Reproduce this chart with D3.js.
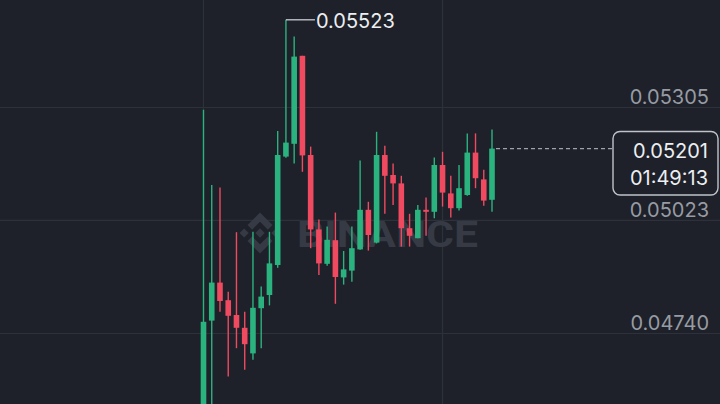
<!DOCTYPE html>
<html>
<head>
<meta charset="utf-8">
<script src="https://cdn.jsdelivr.net/npm/d3@7/dist/d3.min.js"></script>
<style>
  html, body { margin: 0; padding: 0; background: #1e2129; }
  svg { display: block; }
</style>
</head>
<body>
<svg id="chart" width="720" height="404"></svg>
<script>
// ---- data (price candles, oldest first) ----
const opens  = [0.04530, 0.04771, 0.04866, 0.04822, 0.04785, 0.04753, 0.04689, 0.04802, 0.04835, 0.04910,
                0.05181, 0.05213, 0.05433, 0.05185, 0.04999, 0.04913, 0.04972, 0.04879, 0.04896, 0.04949,
                0.05048, 0.04966, 0.05185, 0.05135, 0.05114, 0.05002, 0.04977, 0.05048, 0.05043, 0.05160,
                0.05089, 0.05052, 0.05085, 0.05191, 0.05124, 0.05073];
const highs  = [0.05298, 0.05110, 0.05104, 0.04843, 0.04992, 0.04793, 0.04993, 0.04856, 0.04993, 0.05245,
                0.05523, 0.05481, 0.05433, 0.05206, 0.05024, 0.05006, 0.05041, 0.04945, 0.05006, 0.05171,
                0.05068, 0.05243, 0.05208, 0.05164, 0.05133, 0.05038, 0.05060, 0.05079, 0.05179, 0.05193,
                0.05133, 0.05160, 0.05239, 0.05239, 0.05148, 0.05249];
const lows   = [0.04500, 0.04520, 0.04793, 0.04631, 0.04702, 0.04648, 0.04673, 0.04702, 0.04809, 0.04903,
                0.05178, 0.05164, 0.05143, 0.04952, 0.04885, 0.04908, 0.04813, 0.04861, 0.04868, 0.04948,
                0.04946, 0.04964, 0.05038, 0.05060, 0.04956, 0.04956, 0.04977, 0.04983, 0.05027, 0.05056,
                0.05029, 0.05046, 0.05083, 0.05102, 0.05058, 0.05043];
const closes = [0.04768, 0.04866, 0.04820, 0.04783, 0.04753, 0.04712, 0.04803, 0.04831, 0.04914, 0.05185,
                0.05216, 0.05431, 0.05184, 0.04999, 0.04914, 0.04973, 0.04880, 0.04899, 0.04952, 0.05048,
                0.04985, 0.05185, 0.05133, 0.05114, 0.05002, 0.04983, 0.05048, 0.05043, 0.05160, 0.05091,
                0.05052, 0.05102, 0.05191, 0.05127, 0.05071, 0.05201];
const priceTicks = [0.05305, 0.05023, 0.04740];
const tickLabels = ["0.05305", "0.05023", "0.04740"];
const timeGridIdx = [0, 29];
const highLabel = "0.05523";
const lastPriceLabel = "0.05201";
const countdownLabel = "01:49:13";
const watermarkText = "BINANCE";

const candles = opens.map((o, i) => ({ i, o, h: highs[i], l: lows[i], c: closes[i] }));

// ---- layout ----
const W = 720, H = 404;
const svg = d3.select("#chart");
const up = "#2bb37f", down = "#ef4a60";

const x = d3.scaleLinear().domain([0, candles.length - 1]).range([203.5, 492]);
const y = d3.scaleLinear().domain([0.05305, 0.04740]).range([107, 333]);
const bodyW = 5.6;

svg.append("rect").attr("width", W).attr("height", H).attr("fill", "#1e2129");

const clip = svg.append("defs").append("clipPath").attr("id", "plot");
clip.append("rect").attr("width", W).attr("height", H);

// grid
const yAxis = d3.axisRight(y).tickValues(priceTicks).tickSize(W).tickFormat("");
const gy = svg.append("g").call(yAxis);
gy.select(".domain").remove();
gy.selectAll(".tick line").attr("stroke", "#2d313a").attr("stroke-width", 1.2);

svg.append("g").selectAll("line").data(timeGridIdx).join("line")
  .attr("x1", d => x(d)).attr("x2", d => x(d))
  .attr("y1", 0).attr("y2", H)
  .attr("stroke", "#2d313a").attr("stroke-width", 1.2);

// watermark
const wm = svg.append("g").attr("fill", "#363a44");
const logoSize = 40;
const logo = wm.append("g")
  .attr("transform", `translate(${260 - logoSize / 2},${233 - logoSize / 2}) scale(${logoSize / 128})`);
logo.append("path").attr("d",
  "M38.7 53.2L64 27.9l25.3 25.3 14.7-14.7L64 -1.5 24 38.5z" +
  "M-1.5 64l14.7-14.7L27.9 64 13.2 78.7z" +
  "M38.7 74.8L64 100.1l25.3-25.3 14.7 14.7L64 129.5 24 89.5z" +
  "M100.1 64l14.7-14.7L129.5 64l-14.7 14.7z" +
  "M78.9 64L64 49.1 49.1 64 64 78.9z");
wm.append("text")
  .attr("x", 297).attr("y", 247)
  .attr("font-family", "Roboto, 'DejaVu Sans', sans-serif")
  .attr("font-weight", 700).attr("font-size", 36)
  .attr("textLength", 181).attr("lengthAdjust", "spacingAndGlyphs")
  .text(watermarkText);

// candles
const cg = svg.append("g").attr("clip-path", "url(#plot)");
const cs = cg.selectAll("g.candle").data(candles).join("g").attr("class", "candle");
cs.append("line")
  .attr("x1", d => x(d.i)).attr("x2", d => x(d.i))
  .attr("y1", d => y(d.h)).attr("y2", d => y(d.l))
  .attr("stroke", d => d.c >= d.o ? up : down)
  .attr("stroke-width", 1.4);
cs.append("rect")
  .attr("x", d => x(d.i) - bodyW / 2)
  .attr("width", bodyW)
  .attr("y", d => y(Math.max(d.o, d.c)))
  .attr("height", d => Math.max(1.2, Math.abs(y(d.o) - y(d.c))))
  .attr("fill", d => d.c >= d.o ? up : down);

// y labels
svg.append("g").selectAll("text").data(priceTicks).join("text")
  .attr("x", 709).attr("y", d => y(d) - 3)
  .attr("text-anchor", "end")
  .attr("font-family", "Inter, Roboto, sans-serif")
  .attr("font-size", 20)
  .attr("fill", "#979ba3")
  .text((d, i) => tickLabels[i]);

// highest price marker
const hi = d3.maxIndex(highs);
const hx = x(hi), hy = y(highs[hi]);
svg.append("line").attr("x1", hx).attr("x2", hx + 29).attr("y1", hy).attr("y2", hy)
  .attr("stroke", "#c9ccd1").attr("stroke-width", 1.3);
svg.append("text").attr("x", hx + 30).attr("y", hy + 8)
  .attr("font-family", "Inter, Roboto, sans-serif").attr("font-size", 20)
  .attr("fill", "#eceef1").text(highLabel);

// last price dashed line + label box
const last = candles[candles.length - 1];
const ly = y(last.c);
svg.append("line").attr("x1", x(last.i) + 4).attr("x2", 612).attr("y1", ly).attr("y2", ly)
  .attr("stroke", "#9ea2a9").attr("stroke-width", 1.2).attr("stroke-dasharray", "4,3");
svg.append("rect").attr("x", 613).attr("y", 131.5).attr("width", 105).attr("height", 63.5)
  .attr("rx", 7).attr("fill", "#1e2129").attr("stroke", "#bfc3c9").attr("stroke-width", 1.4);
svg.append("text").attr("x", 708).attr("y", 157.5).attr("text-anchor", "end")
  .attr("font-family", "Inter, Roboto, sans-serif").attr("font-size", 20)
  .attr("fill", "#eceef1").text(lastPriceLabel);
svg.append("text").attr("x", 708).attr("y", 185).attr("text-anchor", "end")
  .attr("font-family", "Inter, Roboto, sans-serif").attr("font-size", 20)
  .attr("fill", "#eceef1").text(countdownLabel);
</script>
</body>
</html>
